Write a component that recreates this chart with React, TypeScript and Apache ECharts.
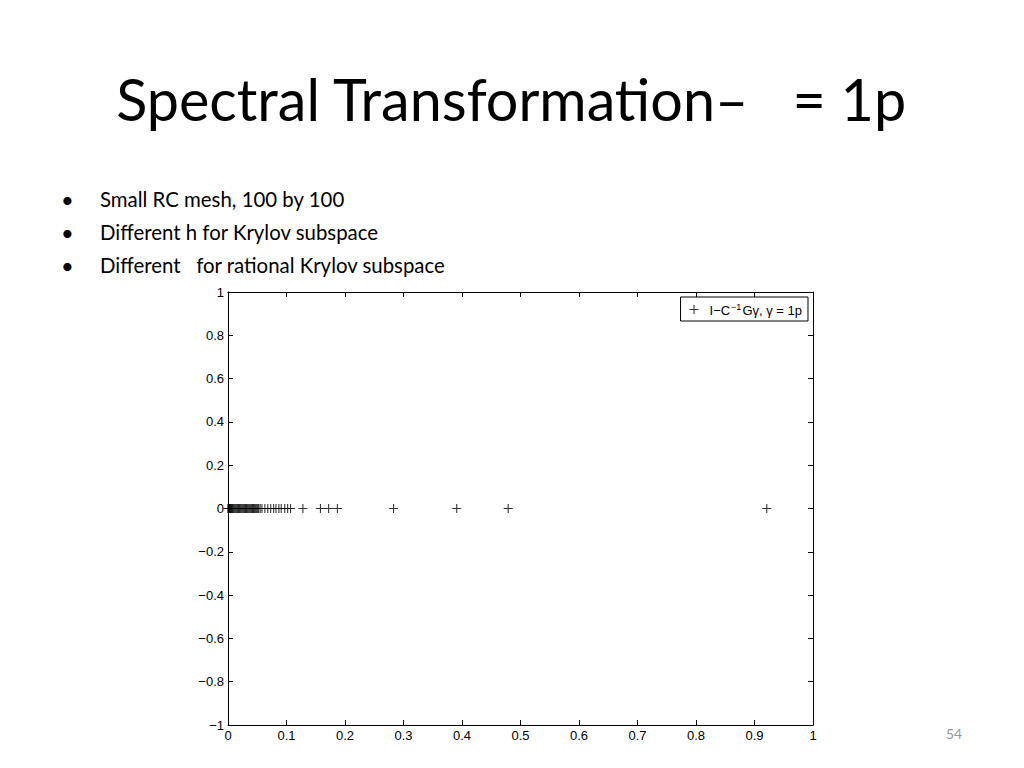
import React, { useEffect, useRef } from "react";
import * as echarts from "echarts";

const titleText = "Spectral Transformation–   = 1p";
const bullets = [
  "Small RC mesh, 100 by 100",
  "Different h for Krylov subspace",
  "Different   for rational Krylov subspace",
];
const pageNumber = "54";
const legendName = "I−C⁻¹Gγ, γ = 1p";

const xTicks = [0, 0.1, 0.2, 0.3, 0.4, 0.5, 0.6, 0.7, 0.8, 0.9, 1];
const yTicks = [-1, -0.8, -0.6, -0.4, -0.2, 0, 0.2, 0.4, 0.6, 0.8, 1];

const eigReal = [
  0, 0.0005, 0.001, 0.0015, 0.002, 0.0025, 0.003, 0.004, 0.005, 0.006,
  0.007, 0.008, 0.009, 0.0105, 0.012, 0.0135, 0.015, 0.0165, 0.018, 0.0195,
  0.021, 0.0225, 0.024, 0.0255, 0.027, 0.0285, 0.03, 0.0315, 0.033, 0.0345,
  0.036, 0.0375, 0.039, 0.0405, 0.042, 0.0435, 0.045, 0.0465, 0.048, 0.0495,
  0.051, 0.0525, 0.055, 0.058, 0.063, 0.068, 0.073, 0.078, 0.082, 0.087,
  0.091, 0.097, 0.102, 0.107, 0.128, 0.158, 0.172, 0.187, 0.283, 0.391,
  0.479, 0.921,
];
const eigImag = eigReal.map(() => 0);

const plusPath = "path://M0,4.4H10V5.6H0Z M4.4,0H5.6V10H4.4Z";

const fmt = (v: number) => String(v).replace("-", "−");

export default function App() {
  const ref = useRef<HTMLDivElement>(null);
  useEffect(() => {
    document.body.style.margin = "0";
    const chart = echarts.init(ref.current!, null, { renderer: "svg" });
    const axisFont = { fontFamily: "Liberation Sans", fontSize: 13, color: "#000" };
    const lineStyle = { color: "#000", width: 1 };
    const tick = { show: true, inside: true, length: 5, lineStyle: { color: "#000" } };
    chart.setOption({
      animation: false,
      backgroundColor: "#fff",
      grid: { left: 228, right: 211, top: 292, bottom: 43, containLabel: false },
      xAxis: [
        {
          type: "value",
          min: 0,
          max: 1,
          interval: 0.1,
          position: "bottom",
          axisLine: { show: true, onZero: false, lineStyle },
          axisTick: tick,
          splitLine: { show: false },
          axisLabel: { ...axisFont, margin: 4, formatter: (v: number) => fmt(v) },
        },
        {
          type: "value",
          min: 0,
          max: 1,
          interval: 0.1,
          position: "top",
          axisLine: { show: true, onZero: false, lineStyle },
          axisTick: tick,
          splitLine: { show: false },
          axisLabel: { show: false },
        },
      ],
      yAxis: [
        {
          type: "value",
          min: -1,
          max: 1,
          interval: 0.2,
          position: "left",
          axisLine: { show: true, onZero: false, lineStyle },
          axisTick: tick,
          splitLine: { show: false },
          axisLabel: { ...axisFont, margin: 4, formatter: (v: number) => fmt(Math.round(v * 10) / 10) },
        },
        {
          type: "value",
          min: -1,
          max: 1,
          interval: 0.2,
          position: "right",
          axisLine: { show: true, onZero: false, lineStyle },
          axisTick: tick,
          splitLine: { show: false },
          axisLabel: { show: false },
        },
      ],
      legend: {
        show: true,
        right: 1024 - 808,
        top: 297,
        orient: "vertical",
        backgroundColor: "#fff",
        borderColor: "#000",
        borderWidth: 1,
        borderRadius: 0,
        padding: [5, 6, 4, 9],
        itemWidth: 9,
        itemHeight: 9,
        itemGap: 0,
        data: [{ name: legendName, icon: plusPath, itemStyle: { color: "#000" } }],
        formatter: () => "{a|I−C}{s|−1}{a|Gγ, γ = 1p}",
        textStyle: {
          fontFamily: "Liberation Sans",
          fontSize: 13,
          color: "#000",
          padding: [0, 0, 0, 6],
          rich: {
            a: { fontFamily: "Liberation Sans", fontSize: 13, color: "#000", lineHeight: 15, verticalAlign: "bottom" },
            s: { fontFamily: "Liberation Sans", fontSize: 9, color: "#000", lineHeight: 15, verticalAlign: "top", padding: [0, 1, 0, 1] },
          },
        },
      },
      series: [
        {
          name: legendName,
          type: "scatter",
          xAxisIndex: 0,
          yAxisIndex: 0,
          symbol: plusPath,
          symbolSize: 9,
          itemStyle: { color: "#000" },
          data: eigReal.map((x, i) => [x, eigImag[i]]),
          silent: true,
        },
      ],
      graphic: [
        {
          type: "text",
          left: "center",
          top: 69,
          style: {
            text: titleText,
            font: "57.5px Lato",
            fill: "#000",
          },
        },
        ...bullets.flatMap((b, i) => [
          {
            type: "text",
            x: 61,
            y: 188 + i * 33,
            style: { text: "•", font: "22px Lato", fill: "#000" },
          },
          {
            type: "text",
            x: 100,
            y: 189 + i * 33,
            style: { text: b, font: "20.4px Lato", fill: "#000" },
          },
        ]),
        {
          type: "text",
          x: 946,
          y: 726,
          style: { text: pageNumber, font: "14px Lato", fill: "#999" },
        },
      ],
    });
    return () => chart.dispose();
  }, []);
  return <div ref={ref} style={{ width: 1024, height: 768 }} />;
}
